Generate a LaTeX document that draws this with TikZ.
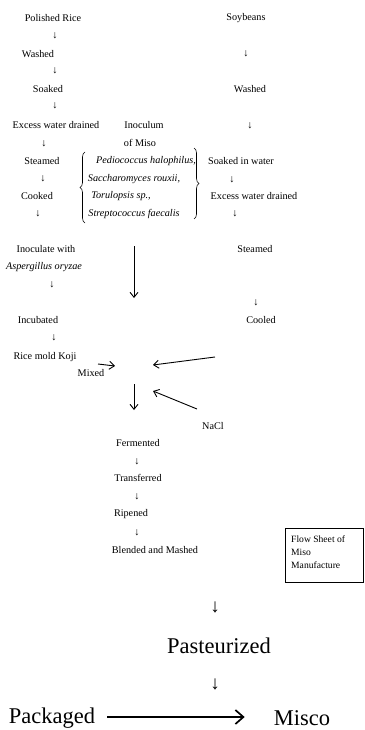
\documentclass[tikz,border=0pt]{standalone}
\usepackage{fontspec}
\setmainfont{Liberation Serif}
\usetikzlibrary{arrows.meta,decorations.pathreplacing}
\begin{document}
\begin{tikzpicture}[x=1pt,y=-1pt,
  lbl/.style={inner sep=0pt,font=\fontsize{10.2}{11}\selectfont},
  ilbl/.style={lbl,font=\fontsize{10.2}{11}\selectfont\itshape},
  dn/.style={inner sep=0pt,font=\fontsize{10.5}{11}\selectfont},
  big/.style={inner sep=0pt,font=\fontsize{22.5}{24}\selectfont},
  bigdn/.style={inner sep=0pt,font=\fontsize{19}{20}\selectfont},
  flow/.style={line width=0.9pt,-{Straight Barb[length=5pt,width=8pt]}},
  bigflow/.style={line width=1.7pt,-{Straight Barb[length=8pt,width=14pt]}},
  brc/.style={line width=0.6pt,decorate,decoration={brace,amplitude=5pt}}]
\useasboundingbox (0,0) rectangle (364,730);
\fill[white] (0,0) rectangle (364,730);

% rice column
\node[lbl] (rice) at (53,18) {Polished Rice};
\node[dn] at (55,36) {↓};
\node[lbl] (rwash) at (38,54) {Washed};
\node[dn] at (55,71) {↓};
\node[lbl] (rsoak) at (48,89) {Soaked};
\node[dn] at (55,106) {↓};
\node[lbl] (rdrain) at (56,125) {Excess water drained};
\node[dn] at (44,144) {↓};
\node[lbl] (rsteam) at (42,161) {Steamed};
\node[dn] at (43,179) {↓};
\node[lbl] (rcook) at (37,196) {Cooked};
\node[dn] at (38,214) {↓};
\node[lbl] (inoc) at (46,249) {Inoculate with};
\node[ilbl] (asp) at (44,267) {Aspergillus oryzae};
\node[dn] at (52,285) {↓};
\node[lbl] (incub) at (38,320) {Incubated};
\node[dn] at (54,338) {↓};
\node[lbl] (koji) at (45,357) {Rice mold Koji};

% inoculum of miso
\node[lbl] (inoculum) at (144,125) {Inoculum};
\node[lbl] (ofmiso) at (140,143) {of Miso};
\node[ilbl] (pedio) at (146,161) {Pediococcus halophilus,};
\node[ilbl] (sacch) at (134,179) {Saccharomyces rouxii,};
\node[ilbl] (torul) at (121,196) {Torulopsis sp.,};
\node[ilbl] (strep) at (134,214) {Streptococcus faecalis};
\draw[brc] (85,223) -- (85,152);
\draw[brc] (194,148) -- (194,219);

% soybean column
\node[lbl] (soy) at (246,18) {Soybeans};
\node[dn] at (246,54) {↓};
\node[lbl] (swash) at (250,89) {Washed};
\node[dn] at (250,126) {↓};
\node[lbl] (ssoak) at (241,161) {Soaked in water};
\node[dn] at (232,180) {↓};
\node[lbl] (sdrain) at (254,196) {Excess water drained};
\node[dn] at (235,214) {↓};
\node[lbl] (ssteam) at (255,249) {Steamed};
\node[dn] at (256,303) {↓};
\node[lbl] (cool) at (261,320) {Cooled};

% mixing
\coordinate (inocA) at (134,246);
\coordinate (inocB) at (134,298);
\draw[flow] (inocA) -- (inocB);
\node[lbl] (mixed) at (91,373) {Mixed};
\coordinate (kojiA) at (98,364);
\coordinate (kojiB) at (115,366);
\draw[flow] (kojiA) -- (kojiB);
\coordinate (coolA) at (215,357);
\coordinate (coolB) at (153,365);
\draw[flow] (coolA) -- (coolB);
\node[lbl] (nacl) at (213,426) {NaCl};
\coordinate (naclA) at (197,409);
\coordinate (naclB) at (153,391);
\draw[flow] (naclA) -- (naclB);
\coordinate (mixA) at (134,384);
\coordinate (mixB) at (134,410);
\draw[flow] (mixA) -- (mixB);

% central sequence
\node[lbl] (ferm) at (138,443) {Fermented};
\node[dn] at (137,462) {↓};
\node[lbl] (trans) at (138,478) {Transferred};
\node[dn] at (137,497) {↓};
\node[lbl] (ripe) at (131,514) {Ripened};
\node[dn] at (137,533) {↓};
\node[lbl] (blend) at (155,550) {Blended and Mashed};

% caption box
\draw[line width=0.5pt] (285,528) rectangle (363.5,582);
\node[lbl,anchor=west,align=left,font=\fontsize{9.6}{13.2}\selectfont] (title) at (291,552)
  {Flow Sheet of\\Miso\\Manufacture};

% final steps
\node[bigdn] at (215,607) {↓};
\node[big] (past) at (219,646) {Pasteurized};
\node[bigdn] at (215,684) {↓};
\node[big] (pack) at (52,718) {Packaged};
\node[big] (misco) at (302,718) {Misco};
\path (pack.east) ++(12,-1) coordinate (packA) (misco.west) ++(-29,-1) coordinate (miscoB);
\draw[bigflow] (packA) -- (miscoB);
\end{tikzpicture}
\end{document}
